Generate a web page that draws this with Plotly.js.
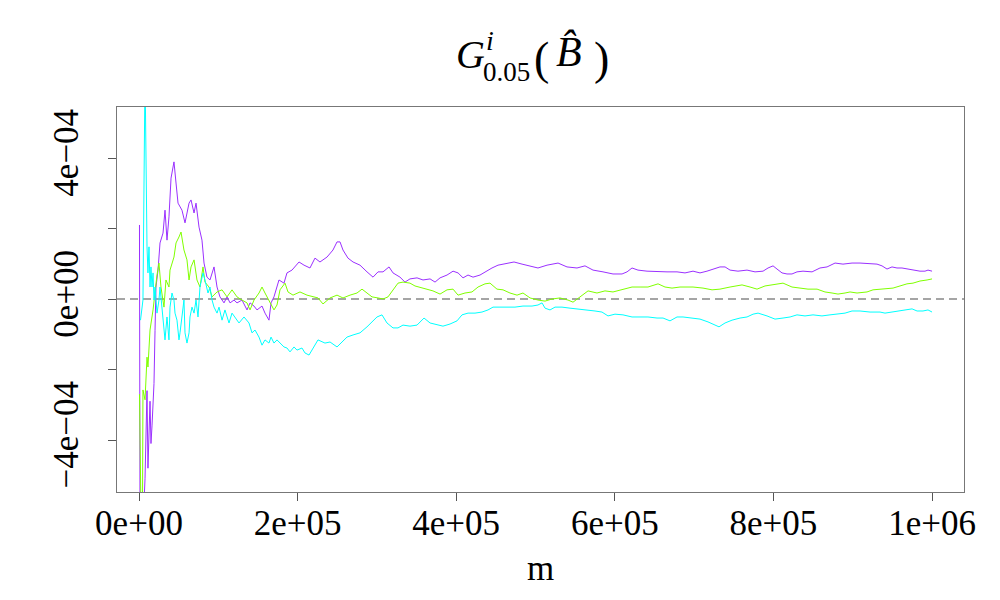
<!DOCTYPE html>
<html>
<head>
<meta charset="utf-8">
<script src="https://cdn.plot.ly/plotly-3.0.1.min.js"></script>
<style>body{margin:0;background:#fff}#chart{width:1000px;height:600px}</style>
</head>
<body>
<div id="chart"></div>
<script>
// m values and G values
const mPurple = [0.6e3,1.3e3,5.0e3,7.6e3,10.1e3,11.3e3,13.9e3,15.1e3,16.4e3,17.7e3,18.9e3,20.2e3,21.4e3,24.0e3,26.5e3,30.3e3,32.8e3,35.3e3,37.8e3,40.4e3,42.9e3,44.1e3,46.7e3,49.2e3,54.2e3,58.0e3,63.1e3,65.6e3,69.4e3,71.9e3,75.7e3,79.4e3,82.0e3,85.7e3,89.5e3,94.6e3,98.4e3,102.1e3,107.2e3,111.0e3,114.8e3,119.8e3,123.6e3,129.9e3,136.2e3,140.0e3,145.0e3,148.8e3,155.1e3,158.9e3,163.9e3,166.5e3,170.2e3,174.0e3,176.5e3,182.8e3,186.6e3,192.9e3,201.8e3,208.1e3,215.6e3,221.9e3,228.2e3,237.1e3,244.6e3,249.7e3,253.5e3,257.2e3,263.5e3,269.9e3,278.7e3,287.5e3,295.1e3,301.4e3,307.7e3,315.3e3,320.3e3,329.1e3,335.4e3,341.7e3,350.6e3,358.1e3,367.0e3,373.3e3,379.6e3,388.4e3,396.0e3,402.3e3,408.6e3,414.9e3,421.2e3,430.0e3,436.3e3,445.1e3,452.7e3,461.5e3,472.9e3,483.0e3,493.1e3,503.1e3,514.5e3,528.4e3,539.7e3,552.3e3,562.4e3,572.5e3,585.1e3,597.7e3,609.1e3,615.4e3,621.7e3,629.2e3,640.6e3,653.2e3,665.8e3,678.4e3,688.5e3,698.6e3,707.4e3,716.2e3,723.8e3,732.6e3,739.0e3,745.3e3,755.3e3,766.7e3,776.8e3,786.9e3,793.2e3,799.5e3,804.5e3,810.8e3,817.1e3,823.4e3,829.7e3,837.3e3,848.7e3,858.7e3,867.6e3,877.7e3,887.7e3,899.1e3,909.2e3,921.8e3,930.6e3,936.9e3,943.2e3,949.5e3,955.8e3,962.1e3,968.4e3,976.0e3,984.8e3,991.1e3,994.9e3,1000e3];
const gPurple = [2.10e-4,-6.5e-4,-6.5e-4,-5.1e-4,-2.6e-4,-4.8e-4,-2.9e-4,-4.1e-4,-3.6e-4,-2.9e-4,-2.4e-4,-0.9e-4,0.34e-4,0.82e-4,1.59e-4,1.87e-4,2.52e-4,1.67e-4,2.33e-4,3.43e-4,3.80e-4,3.89e-4,3.29e-4,2.72e-4,2.52e-4,2.16e-4,2.72e-4,2.81e-4,2.44e-4,2.72e-4,2.04e-4,1.67e-4,1.02e-4,0.62e-4,0.54e-4,0.91e-4,0.34e-4,0.06e-4,-0.11e-4,0.06e-4,-0.11e-4,-0.03e-4,-0.11e-4,-0.03e-4,-0.31e-4,-0.11e-4,-0.20e-4,-0.31e-4,-0.20e-4,-0.40e-4,-0.60e-4,-0.11e-4,0.06e-4,0.34e-4,0.54e-4,0.45e-4,0.74e-4,0.82e-4,1.05e-4,0.96e-4,0.88e-4,1.16e-4,1.05e-4,1.19e-4,1.39e-4,1.62e-4,1.62e-4,1.39e-4,1.16e-4,1.05e-4,0.96e-4,0.77e-4,0.62e-4,0.77e-4,0.77e-4,0.91e-4,0.74e-4,0.62e-4,0.48e-4,0.57e-4,0.60e-4,0.54e-4,0.57e-4,0.48e-4,0.60e-4,0.68e-4,0.79e-4,0.74e-4,0.60e-4,0.68e-4,0.62e-4,0.68e-4,0.77e-4,0.88e-4,0.96e-4,0.99e-4,1.05e-4,0.99e-4,0.94e-4,0.88e-4,0.96e-4,1.02e-4,0.91e-4,0.88e-4,0.94e-4,0.82e-4,0.77e-4,0.71e-4,0.71e-4,0.77e-4,0.88e-4,0.82e-4,0.79e-4,0.77e-4,0.77e-4,0.77e-4,0.74e-4,0.79e-4,0.74e-4,0.79e-4,0.85e-4,0.91e-4,0.91e-4,0.82e-4,0.79e-4,0.82e-4,0.77e-4,0.79e-4,0.88e-4,0.94e-4,0.85e-4,0.74e-4,0.71e-4,0.71e-4,0.77e-4,0.79e-4,0.77e-4,0.88e-4,0.91e-4,1.02e-4,0.99e-4,1.02e-4,1.02e-4,0.99e-4,0.99e-4,0.94e-4,0.85e-4,0.91e-4,0.88e-4,0.88e-4,0.85e-4,0.82e-4,0.79e-4,0.79e-4,0.82e-4,0.79e-4];

const mGreen = [0.6e3,2.5e3,4.4e3,5.0e3,7.6e3,10.1e3,11.3e3,13.9e3,17.7e3,20.2e3,22.7e3,25.2e3,27.7e3,31.5e3,34.0e3,37.8e3,39.1e3,44.1e3,46.7e3,50.4e3,53.0e3,56.7e3,60.5e3,63.1e3,65.6e3,69.4e3,73.1e3,76.9e3,80.7e3,83.2e3,88.3e3,92.1e3,98.4e3,104.7e3,111.0e3,117.3e3,123.6e3,129.9e3,136.2e3,140.0e3,145.0e3,151.3e3,155.1e3,158.9e3,165.2e3,170.2e3,174.0e3,177.8e3,184.1e3,187.9e3,194.2e3,203.0e3,211.8e3,219.4e3,225.7e3,232.0e3,240.9e3,249.7e3,257.2e3,266.1e3,274.9e3,281.2e3,287.5e3,293.8e3,301.4e3,307.7e3,314.0e3,320.3e3,326.6e3,332.9e3,341.7e3,348.0e3,356.9e3,364.4e3,370.7e3,379.6e3,388.4e3,396.0e3,402.3e3,411.1e3,419.9e3,427.5e3,436.3e3,442.6e3,451.4e3,459.0e3,467.8e3,476.7e3,484.2e3,493.1e3,503.1e3,512.0e3,520.8e3,530.9e3,541.0e3,547.3e3,556.1e3,566.2e3,577.5e3,587.6e3,597.7e3,610.3e3,621.7e3,631.8e3,641.8e3,654.5e3,663.3e3,672.1e3,682.2e3,698.6e3,711.2e3,722.6e3,732.6e3,745.3e3,760.4e3,770.5e3,779.3e3,789.4e3,799.5e3,812.1e3,823.4e3,833.5e3,843.6e3,855.0e3,865.0e3,873.9e3,881.4e3,890.3e3,896.6e3,905.4e3,918.0e3,925.6e3,938.2e3,950.8e3,959.6e3,968.4e3,976.0e3,984.8e3,993.7e3,1000e3];
const gGreen = [-2.7e-4,-6.0e-4,-6.0e-4,-2.58e-4,-2.86e-4,-1.65e-4,-1.93e-4,-0.88e-4,-0.31e-4,0.26e-4,0.68e-4,1.02e-4,0.34e-4,-0.23e-4,0.54e-4,0.34e-4,0.82e-4,1.19e-4,1.59e-4,1.76e-4,1.90e-4,1.39e-4,1.11e-4,0.54e-4,0.91e-4,1.11e-4,0.54e-4,0.34e-4,0.91e-4,0.48e-4,0.34e-4,0.06e-4,0.20e-4,0.26e-4,0.06e-4,0.26e-4,0.06e-4,-0.03e-4,-0.11e-4,-0.31e-4,-0.03e-4,0.17e-4,0.34e-4,0.17e-4,-0.11e-4,-0.31e-4,-0.17e-4,0.26e-4,0.45e-4,0.20e-4,0.11e-4,0.20e-4,0.11e-4,0.06e-4,0.03e-4,-0.14e-4,0.03e-4,0.11e-4,0.03e-4,0.11e-4,0.17e-4,0.28e-4,0.17e-4,0.06e-4,0.03e-4,0.00,0.06e-4,0.26e-4,0.45e-4,0.48e-4,0.45e-4,0.37e-4,0.31e-4,0.26e-4,0.23e-4,0.14e-4,0.26e-4,0.28e-4,0.11e-4,0.17e-4,0.20e-4,0.34e-4,0.43e-4,0.45e-4,0.28e-4,0.26e-4,0.17e-4,0.11e-4,0.17e-4,0.03e-4,-0.03e-4,-0.06e-4,0.00,0.03e-4,-0.03e-4,-0.09e-4,0.06e-4,0.23e-4,0.17e-4,0.23e-4,0.20e-4,0.28e-4,0.34e-4,0.34e-4,0.34e-4,0.43e-4,0.34e-4,0.31e-4,0.34e-4,0.34e-4,0.31e-4,0.26e-4,0.28e-4,0.34e-4,0.40e-4,0.34e-4,0.28e-4,0.37e-4,0.40e-4,0.45e-4,0.34e-4,0.31e-4,0.28e-4,0.28e-4,0.20e-4,0.17e-4,0.14e-4,0.17e-4,0.20e-4,0.17e-4,0.20e-4,0.26e-4,0.28e-4,0.31e-4,0.37e-4,0.43e-4,0.45e-4,0.51e-4,0.54e-4,0.57e-4];

const mCyan = [1.9e3,5.0e3,7.6e3,8.8e3,10.1e3,11.3e3,12.6e3,13.9e3,15.1e3,16.4e3,17.7e3,18.9e3,20.2e3,22.7e3,25.2e3,26.5e3,29.0e3,31.5e3,32.8e3,35.3e3,37.8e3,39.1e3,41.6e3,44.1e3,45.4e3,47.9e3,50.4e3,51.7e3,54.2e3,56.7e3,58.0e3,60.5e3,63.1e3,64.3e3,66.8e3,69.4e3,71.9e3,74.4e3,76.9e3,80.7e3,83.2e3,87.0e3,89.5e3,92.1e3,94.6e3,98.4e3,100.9e3,104.7e3,108.4e3,113.5e3,117.3e3,121.1e3,126.1e3,132.4e3,138.7e3,142.5e3,146.3e3,151.3e3,155.1e3,158.9e3,163.9e3,166.5e3,170.2e3,174.0e3,177.8e3,182.8e3,186.6e3,190.4e3,195.5e3,199.2e3,205.5e3,209.3e3,214.4e3,219.4e3,225.7e3,234.5e3,240.9e3,249.7e3,256.0e3,262.3e3,269.9e3,278.7e3,287.5e3,293.8e3,300.1e3,306.4e3,312.7e3,320.3e3,326.6e3,332.9e3,341.7e3,350.6e3,359.4e3,367.0e3,375.8e3,383.3e3,392.2e3,401.0e3,407.3e3,414.9e3,423.7e3,432.5e3,440.1e3,446.4e3,454.0e3,464.0e3,474.1e3,484.2e3,495.6e3,503.1e3,508.2e3,512.0e3,518.3e3,524.6e3,533.4e3,543.5e3,553.6e3,564.9e3,575.0e3,583.8e3,591.4e3,600.2e3,610.3e3,621.7e3,631.8e3,641.8e3,653.2e3,660.8e3,669.6e3,678.4e3,686.0e3,694.8e3,707.4e3,717.5e3,723.8e3,731.4e3,739.0e3,747.8e3,757.9e3,766.7e3,774.3e3,780.6e3,791.9e3,802.0e3,812.1e3,821.0e3,829.7e3,839.8e3,849.9e3,861.2e3,871.3e3,881.4e3,890.3e3,899.1e3,909.2e3,921.8e3,934.4e3,940.7e3,950.8e3,959.6e3,968.4e3,974.8e3,981.1e3,988.6e3,994.9e3,1000e3];
const gCyan = [-0.6e-4,-0.03e-4,6.5e-4,3.74e-4,1.48e-4,0.74e-4,1.48e-4,0.34e-4,0.91e-4,0.34e-4,0.74e-4,-0.03e-4,0.34e-4,-0.40e-4,-0.03e-4,0.34e-4,-0.23e-4,-0.79e-4,-1.16e-4,-0.51e-4,-1.16e-4,-0.23e-4,0.17e-4,-0.03e-4,-0.40e-4,-0.60e-4,-1.16e-4,-0.96e-4,-0.40e-4,-0.03e-4,-0.96e-4,-1.25e-4,-0.96e-4,-0.51e-4,-0.23e-4,-0.40e-4,-0.03e-4,-0.51e-4,0.34e-4,0.74e-4,0.54e-4,0.17e-4,0.34e-4,-0.03e-4,-0.23e-4,-0.40e-4,-0.23e-4,-0.60e-4,-0.31e-4,-0.68e-4,-0.40e-4,-0.51e-4,-0.68e-4,-0.51e-4,-0.68e-4,-0.96e-4,-0.88e-4,-1.08e-4,-1.31e-4,-1.16e-4,-1.25e-4,-1.08e-4,-1.25e-4,-1.16e-4,-1.25e-4,-1.36e-4,-1.39e-4,-1.50e-4,-1.36e-4,-1.45e-4,-1.39e-4,-1.53e-4,-1.59e-4,-1.39e-4,-1.16e-4,-1.25e-4,-1.22e-4,-1.36e-4,-1.22e-4,-1.08e-4,-1.02e-4,-0.96e-4,-0.79e-4,-0.65e-4,-0.51e-4,-0.45e-4,-0.68e-4,-0.82e-4,-0.82e-4,-0.74e-4,-0.77e-4,-0.74e-4,-0.54e-4,-0.68e-4,-0.74e-4,-0.77e-4,-0.71e-4,-0.62e-4,-0.45e-4,-0.40e-4,-0.40e-4,-0.37e-4,-0.31e-4,-0.23e-4,-0.23e-4,-0.23e-4,-0.23e-4,-0.20e-4,-0.20e-4,-0.17e-4,-0.11e-4,-0.26e-4,-0.31e-4,-0.23e-4,-0.23e-4,-0.26e-4,-0.28e-4,-0.31e-4,-0.34e-4,-0.37e-4,-0.48e-4,-0.43e-4,-0.45e-4,-0.51e-4,-0.51e-4,-0.51e-4,-0.54e-4,-0.54e-4,-0.62e-4,-0.51e-4,-0.51e-4,-0.54e-4,-0.57e-4,-0.65e-4,-0.71e-4,-0.79e-4,-0.68e-4,-0.60e-4,-0.54e-4,-0.51e-4,-0.43e-4,-0.40e-4,-0.48e-4,-0.57e-4,-0.54e-4,-0.51e-4,-0.45e-4,-0.48e-4,-0.45e-4,-0.48e-4,-0.45e-4,-0.43e-4,-0.40e-4,-0.34e-4,-0.34e-4,-0.37e-4,-0.37e-4,-0.40e-4,-0.37e-4,-0.34e-4,-0.31e-4,-0.28e-4,-0.34e-4,-0.34e-4,-0.31e-4,-0.37e-4];

const xTickVals = [0, 2e5, 4e5, 6e5, 8e5, 1e6];
const xTickText = ['0e+00', '2e+05', '4e+05', '6e+05', '8e+05', '1e+06'];
const yTickVals = [-4e-4, -2e-4, 0, 2e-4, 4e-4];
const yTickText = ['\u22124e\u221204', '', '0e+00', '', '4e\u221204'];

const serif = "'Liberation Serif', 'DejaVu Serif', serif";

const traces = [
  {x: mPurple, y: gPurple, color: '#9B30FF'},
  {x: mGreen, y: gGreen, color: '#7FFF00'},
  {x: mCyan, y: gCyan, color: '#00FFFF'}
].map(s => ({
  type: 'scatter', mode: 'lines', x: s.x, y: s.y,
  line: {color: s.color, width: 1}, hoverinfo: 'skip', showlegend: false
}));

const layout = {
  width: 1000, height: 600,
  margin: {l: 117, r: 36, t: 107, b: 108},
  paper_bgcolor: '#fff', plot_bgcolor: '#fff',
  font: {family: serif, color: '#000'},
  showlegend: false,
  xaxis: {
    range: [-27740, 1040300], showgrid: false, zeroline: false,
    showline: true, mirror: true, linecolor: '#777', linewidth: 1,
    ticks: 'outside', ticklen: 8, tickcolor: '#555', tickwidth: 1,
    tickvals: xTickVals, ticktext: xTickText,
    ticklabelstandoff: -8,
    tickfont: {family: serif, size: 35, color: '#000'},
    title: {text: 'm', font: {family: serif, size: 35, color: '#000'}, standoff: 13}
  },
  yaxis: {
    range: [-5.475e-4, 5.447e-4], showgrid: false, zeroline: false,
    showline: true, mirror: true, linecolor: '#777', linewidth: 1,
    ticks: 'outside', ticklen: 8, tickcolor: '#555', tickwidth: 1,
    tickvals: yTickVals, ticktext: yTickText, tickangle: -90,
    ticklabelstandoff: 16,
    tickfont: {family: serif, size: 35, color: '#000'}
  },
  shapes: [{
    type: 'line', xref: 'paper', yref: 'y', x0: 0, x1: 1, y0: 0, y1: 0,
    line: {color: '#888', width: 1.5, dash: '8px,5px'}, layer: 'below'
  }],
  annotations: [
    {text: '<i>G</i>', x: 470, y: 55, size: 40},
    {text: '<i>i</i>', x: 490, y: 40, size: 28},
    {text: '0.05', x: 506, y: 72, size: 27},
    {text: '(', x: 541, y: 58, size: 46},
    {text: '<i>B\u0302</i>', x: 569, y: 52, size: 42},
    {text: ')', x: 601, y: 58, size: 46}
  ].map(a => ({
    text: a.text, xref: 'paper', yref: 'paper',
    x: (a.x - 117) / 847, y: (492 - a.y) / 385,
    xanchor: 'center', yanchor: 'middle', showarrow: false, borderpad: 0,
    font: {family: serif, size: a.size, color: '#000'}
  }))
};

Plotly.newPlot('chart', traces, layout, {staticPlot: true, displayModeBar: false});
</script>
</body>
</html>
